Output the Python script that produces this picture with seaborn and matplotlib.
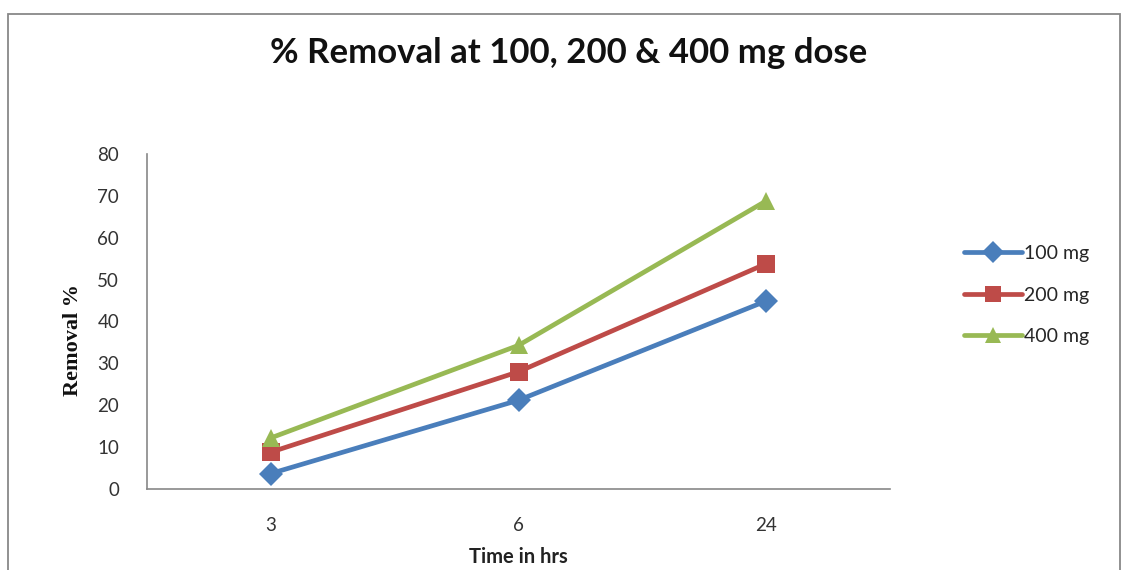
import matplotlib
matplotlib.use("Agg")
import matplotlib.pyplot as plt
import seaborn as sns
import pandas as pd
from matplotlib.patches import Rectangle
from matplotlib.lines import Line2D

# ---- data ----
times = ["3", "6", "24"]
dose_labels = ["100 mg", "200 mg", "400 mg"]
removal_100 = [3.7, 21.2, 44.9]
removal_200 = [8.8, 28.0, 53.8]
removal_400 = [12.2, 34.3, 68.8]
y_ticks = [0, 10, 20, 30, 40, 50, 60, 70, 80]

colors = ["#4A7EBB", "#BE4B48", "#98B954"]
markers = ["D", "s", "^"]

rows = []
for lab, vals in zip(dose_labels, [removal_100, removal_200, removal_400]):
    for i, (t, v) in enumerate(zip(times, vals)):
        rows.append({"pos": i, "Time": t, "Removal": v, "Dose": lab})
df = pd.DataFrame(rows)

sns.set_theme(style="white")
plt.rcParams["font.family"] = ["Lato", "DejaVu Sans"]

fig = plt.figure(figsize=(11.21, 5.70), dpi=100)
ax = fig.add_axes([147/1121, 1-489/570, (890-147)/1121, (489-154)/570])

sns.lineplot(data=df, x="pos", y="Removal", hue="Dose", style="Dose",
             palette=colors, markers=markers, dashes=False, ax=ax,
             linewidth=3.4, markersize=12.5, markeredgewidth=0, legend=False)

ax.set_xlim(-0.5, len(times) - 0.5)
ax.set_ylim(0, 80)
ax.set_yticks(y_ticks)
ax.set_yticklabels([str(t) for t in y_ticks], fontsize=13.5, color="#333333")
ax.set_xticks([i - 0.5 for i in range(len(times) + 1)])
ax.set_xticklabels([])
ax.set_xticks(range(len(times)), minor=True)
ax.set_xticklabels(times, minor=True, fontsize=13.5, color="#333333")
ax.tick_params(axis="x", which="major", direction="out", length=7, width=1, color="#888888")
ax.tick_params(axis="x", which="minor", length=0, pad=20)
ax.tick_params(axis="y", direction="out", length=6, width=1, color="#888888", pad=14)

for s in ["top", "right"]:
    ax.spines[s].set_visible(False)
for s in ["left", "bottom"]:
    ax.spines[s].set_color("#888888")
    ax.spines[s].set_linewidth(1.2)

ax.set_xlabel("Time in hrs", fontsize=14.5, fontweight="bold", color="#222222")
ax.xaxis.set_label_coords(0.5, -(557-489)/335, transform=ax.transAxes)
ax.xaxis.label.set_va("center")
ax.set_ylabel("Removal %", fontsize=16, fontweight="bold", family="Liberation Serif",
              color="#111111")
ax.yaxis.set_label_coords(-(147-73)/743, (489-340)/335)
ax.yaxis.label.set_va("center")

fig.suptitle("% Removal at 100, 200 & 400 mg dose", x=569/1121, y=1-53/570,
             va="center", fontsize=25, fontweight="bold", color="#111111")

# legend
handles = [Line2D([], [], color=c, marker=m, lw=3.4, markersize=11, markeredgewidth=0)
           for c, m in zip(colors, markers)]
fig.legend(handles, dose_labels, loc="center left", bbox_to_anchor=(946/1121, 1-295/570),
           frameon=False, fontsize=14, handlelength=3.0, handletextpad=0.1,
           labelspacing=1.25)

# outer border
fig.patches.append(Rectangle((8/1121, -0.05), (1120-8)/1121, 1.05 - 14/570,
                             transform=fig.transFigure, fill=False,
                             edgecolor="#888888", linewidth=1.3))

fig.savefig("out.png", dpi=100)
